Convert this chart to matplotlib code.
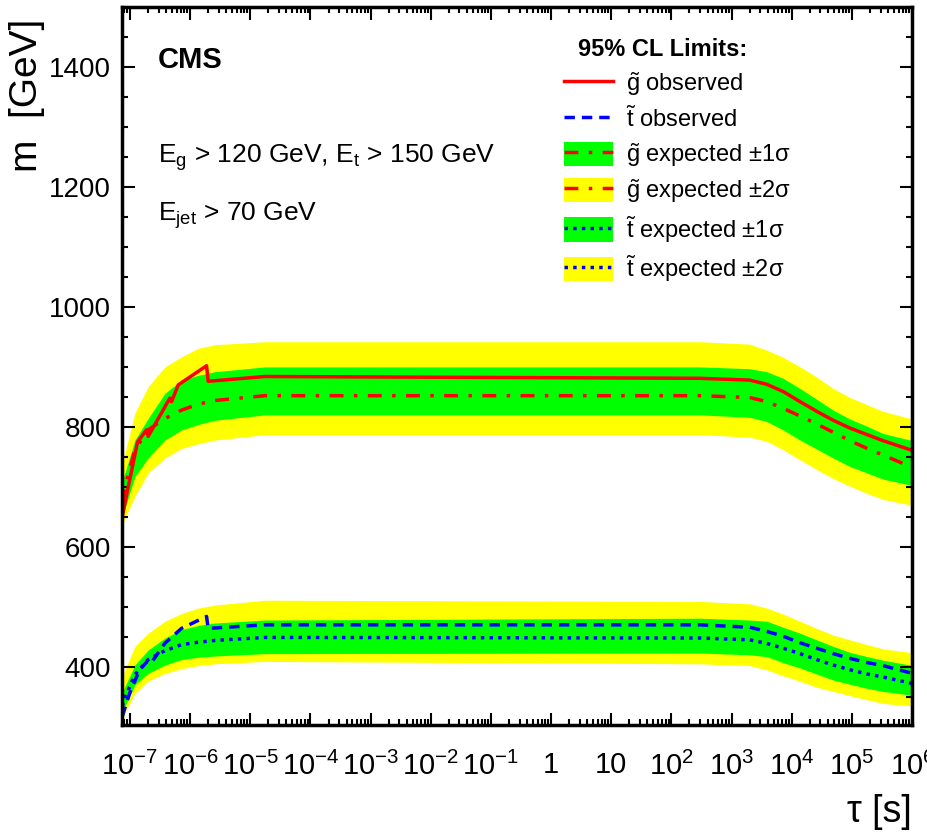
import matplotlib
matplotlib.use("Agg")
import matplotlib.pyplot as plt
from matplotlib.patches import Patch
from matplotlib.lines import Line2D
from matplotlib.ticker import FixedLocator, LogLocator, NullFormatter, MultipleLocator
import numpy as np

plt.rcParams['font.family'] = ['Liberation Sans', 'DejaVu Sans']
plt.rcParams['mathtext.fontset'] = 'custom'
plt.rcParams['mathtext.rm'] = 'Liberation Sans'
plt.rcParams['mathtext.it'] = 'Liberation Sans:italic'
plt.rcParams['mathtext.bf'] = 'Liberation Sans:bold'

# common lifetime grid (s) for the bands and expected curves
tau_grid = [7.45e-8, 8.26e-8, 1.21e-7, 2.01e-7, 3.82e-7, 7.24e-7, 1.37e-6, 2.59e-6, 1.75e-5,
            3.0e2, 2.0e3, 3.85e3, 7.2e3, 1.38e4, 2.6e4, 4.9e4, 9.3e4, 1.8e5, 3.3e5, 9.3e5, 1.0e6]

# gluino
gl_exp   = [673, 700, 762, 795, 814, 828, 838, 844, 852, 852, 849, 842, 831, 818, 805, 791, 777, 764, 753, 734, 732]
gl_1s_hi = [712, 723, 778, 814, 856, 878, 886, 892, 900, 900, 897, 892, 881, 864, 846, 828, 813, 801, 789, 778, 777]
gl_1s_lo = [659, 664, 717, 748, 778, 795, 804, 811, 820, 820, 816, 809, 795, 778, 763, 748, 734, 723, 713, 703, 702]
gl_2s_hi = [734, 756, 823, 867, 900, 917, 931, 937, 942, 942, 938, 928, 916, 900, 883, 864, 849, 837, 826, 814, 813]
gl_2s_lo = [634, 648, 684, 723, 748, 764, 772, 778, 787, 787, 783, 776, 762, 745, 729, 714, 701, 689, 679, 670, 669]
gl_obs_tau = [7.45e-8, 9.38e-8, 1.34e-7, 1.89e-7, 2.01e-7, 4.61e-7, 4.92e-7, 6.35e-7, 1.88e-6, 2.0e-6,
              1.75e-5, 3.0e2, 2.0e3, 3.85e3, 7.2e3, 1.38e4, 2.6e4, 4.9e4, 9.3e4, 1.8e5, 3.3e5, 9.3e5, 1.0e6]
gl_obs = [650, 700, 775, 795, 784, 848, 842, 870, 902, 876,
          884, 881, 878, 871, 859, 842, 826, 811, 798, 787, 777, 762, 761]

# stop
st_exp   = [334, 348, 387, 412, 427, 437, 441, 444, 449, 448, 445, 439, 431, 422, 412, 403, 395, 388, 383, 373, 372]
st_1s_hi = [356, 367, 403, 428, 448, 462, 469, 473, 478, 481, 478, 476, 466, 456, 445, 434, 424, 417, 411, 403, 402]
st_1s_lo = [323, 334, 370, 389, 403, 412, 416, 418, 422, 423, 420, 417, 407, 398, 388, 378, 371, 364, 359, 353, 352]
st_2s_hi = [378, 395, 434, 456, 476, 489, 498, 503, 511, 509, 505, 498, 488, 476, 464, 453, 445, 437, 430, 424, 423]
st_2s_lo = [312, 323, 356, 376, 389, 397, 402, 405, 409, 405, 402, 395, 385, 376, 366, 359, 352, 345, 339, 335, 334]
st_obs_tau = [7.45e-8, 9.9e-8, 1.45e-7, 1.95e-7, 2.2e-7, 3.8e-7, 7.2e-7, 1.88e-6, 2.0e-6,
              1.75e-5, 3.0e2, 2.0e3, 3.85e3, 7.2e3, 1.38e4, 2.6e4, 4.9e4, 9.3e4, 1.8e5, 3.3e5, 9.3e5, 1.0e6]
st_obs = [317, 356, 395, 409, 405, 439, 464, 484, 464,
          470, 470, 466, 459, 451, 440, 431, 422, 414, 407, 402, 390, 389]

x_ticks = [1e-7, 1e-6, 1e-5, 1e-4, 1e-3, 1e-2, 1e-1, 1, 10, 1e2, 1e3, 1e4, 1e5, 1e6]
x_ticklabels = ['10$^{\\mathregular{-7}}$', '10$^{\\mathregular{-6}}$', '10$^{\\mathregular{-5}}$',
                '10$^{\\mathregular{-4}}$', '10$^{\\mathregular{-3}}$', '10$^{\\mathregular{-2}}$',
                '10$^{\\mathregular{-1}}$', '1', '10', '10$^{\\mathregular{2}}$', '10$^{\\mathregular{3}}$',
                '10$^{\\mathregular{4}}$', '10$^{\\mathregular{5}}$', '10$^{\\mathregular{6}}$']

YELLOW = '#ffff00'
GREEN = '#00ff00'
DASHDOT = (0, (4, 3, 1, 3))
DOTTED = (0, (1, 1.5))
DASHED = (0, (3, 2))

fig = plt.figure(figsize=(9.28, 8.34), dpi=100)
ax = fig.add_axes([0.1315, 0.1307, 0.8513, 0.8609])

for lo2, hi2, lo1, hi1 in [(gl_2s_lo, gl_2s_hi, gl_1s_lo, gl_1s_hi),
                           (st_2s_lo, st_2s_hi, st_1s_lo, st_1s_hi)]:
    ax.fill_between(tau_grid, lo2, hi2, color=YELLOW, lw=0)
    ax.fill_between(tau_grid, lo1, hi1, color=GREEN, lw=0)

ax.plot(tau_grid, gl_exp, color='red', lw=2.5, ls=DASHDOT)
ax.plot(tau_grid, st_exp, color='blue', lw=2.5, ls=DOTTED)
ax.plot(gl_obs_tau, gl_obs, color='red', lw=2.5)
ax.plot(st_obs_tau, st_obs, color='blue', lw=2.5, ls=DASHED)

ax.set_xscale('log')
ax.set_xlim(7.4e-8, 1e6)
ax.set_ylim(303, 1500)
ax.xaxis.set_major_locator(FixedLocator(x_ticks))
ax.set_xticklabels(x_ticklabels)
ax.xaxis.set_minor_locator(LogLocator(base=10, subs=np.arange(2, 10), numticks=100))
ax.xaxis.set_minor_formatter(NullFormatter())
ax.yaxis.set_major_locator(MultipleLocator(200))
ax.yaxis.set_minor_locator(MultipleLocator(50))

ax.tick_params(which='both', direction='in', top=True, right=True, width=1.5)
ax.tick_params(which='major', length=9)
ax.tick_params(which='minor', length=4.5)
ax.tick_params(axis='x', which='major', pad=19, labelsize=21)
ax.tick_params(axis='y', which='major', pad=8, labelsize=20)
for sp in ax.spines.values():
    sp.set_linewidth(2.5)

ax.set_ylabel('m  [GeV]', fontsize=28, loc='top')
ax.yaxis.set_label_coords(-0.098, 0.983)
ax.set_xlabel('τ [s]', fontsize=27, loc='right', labelpad=10)

ax.text(0.045, 0.926, 'CMS', transform=ax.transAxes, fontsize=21, fontweight='bold', va='center')
ax.text(0.045, 0.79, 'E$_{\\mathregular{g}}$ > 120 GeV, E$_{\\mathregular{t}}$ > 150 GeV',
        transform=ax.transAxes, fontsize=19, va='center')
ax.text(0.045, 0.71, 'E$_{\\mathregular{jet}}$ > 70 GeV', transform=ax.transAxes, fontsize=19, va='center')

handles = [
    Line2D([], [], color='red', lw=2.5),
    Line2D([], [], color='blue', lw=2.5, ls=DASHED),
    (Patch(color=GREEN, lw=0), Line2D([], [], color='red', lw=2.5, ls=DASHDOT)),
    (Patch(color=YELLOW, lw=0), Line2D([], [], color='red', lw=2.5, ls=DASHDOT)),
    (Patch(color=GREEN, lw=0), Line2D([], [], color='blue', lw=2.5, ls=DOTTED)),
    (Patch(color=YELLOW, lw=0), Line2D([], [], color='blue', lw=2.5, ls=DOTTED)),
]
labels = ['$\\tilde{\\mathrm{g}}$ observed', '$\\tilde{\\mathrm{t}}$ observed',
          '$\\tilde{\\mathrm{g}}$ expected $\\pm$1σ', '$\\tilde{\\mathrm{g}}$ expected $\\pm$2σ',
          '$\\tilde{\\mathrm{t}}$ expected $\\pm$1σ', '$\\tilde{\\mathrm{t}}$ expected $\\pm$2σ']
leg = ax.legend(handles, labels, loc='upper left', bbox_to_anchor=(0.532, 0.986), frameon=False,
                fontsize=17, title='95% CL Limits:', title_fontproperties={'weight': 'bold', 'size': 17},
                handlelength=2.1, handleheight=1.2, labelspacing=0.36, handletextpad=0.55,
                alignment='left')
leg.get_title().set_position((14, 0))

fig.savefig('out.png', dpi=100)
